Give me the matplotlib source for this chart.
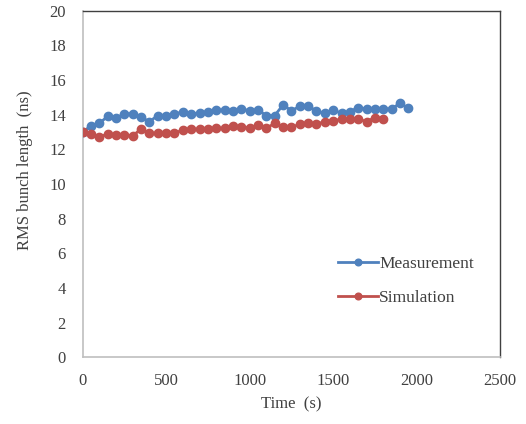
import numpy as np
import matplotlib
matplotlib.use("Agg")
import matplotlib.pyplot as plt

# time in seconds, bunch length in ns
t_meas = np.arange(0, 1951, 50)
rms_meas = [13.0, 13.35, 13.5, 13.9, 13.8, 14.05, 14.05, 13.85, 13.6, 13.95,
            13.95, 14.05, 14.15, 14.05, 14.08, 14.14, 14.27, 14.27, 14.21, 14.33,
            14.23, 14.27, 13.95, 13.95, 14.56, 14.23, 14.48, 14.5, 14.21, 14.08,
            14.27, 14.08, 14.18, 14.41, 14.33, 14.33, 14.33, 14.33, 14.66, 14.37]

t_sim = np.arange(0, 1801, 50)
rms_sim = [13.02, 12.87, 12.7, 12.89, 12.83, 12.83, 12.79, 13.16, 12.93, 12.93,
           12.93, 12.93, 13.12, 13.16, 13.16, 13.16, 13.22, 13.22, 13.35, 13.31,
           13.22, 13.41, 13.22, 13.5, 13.27, 13.27, 13.45, 13.5, 13.45, 13.6,
           13.64, 13.75, 13.75, 13.75, 13.6, 13.83, 13.75]

plt.rcParams['font.family'] = ['Liberation Serif', 'DejaVu Serif']

fig = plt.figure(figsize=(5.26, 4.24), dpi=100)
ax = fig.add_axes([0.157, 0.157, 0.794, 0.818])

ax.plot(t_meas, rms_meas, color='#4F81BD', lw=2, marker='o', ms=6,
        label='Measurement', zorder=3)
ax.plot(t_sim, rms_sim, color='#C0504D', lw=2, marker='o', ms=6,
        label='Simulation', zorder=4)

ax.set_xlim(0, 2500)
ax.set_ylim(0, 20)
ax.set_xticks(np.arange(0, 2501, 500))
ax.set_yticks(np.arange(0, 21, 2))
ax.tick_params(length=0, labelsize=12, labelcolor='#404040')
ax.tick_params(axis='y', pad=12)
ax.tick_params(axis='x', pad=11)

for s in ['left', 'bottom']:
    ax.spines[s].set_color('#BFBFBF')
    ax.spines[s].set_linewidth(1.2)
for s in ['top', 'right']:
    ax.spines[s].set_color('#404040')
    ax.spines[s].set_linewidth(1.0)

ax.set_xlabel('Time  (s)', fontsize=12, color='#404040')
ax.set_ylabel('RMS bunch length  (ns)', fontsize=12, color='#404040')
ax.xaxis.set_label_coords(0.5, -0.112)
ax.yaxis.set_label_coords(-0.118, 0.54)

leg = ax.legend(loc='center left', bbox_to_anchor=(0.575, 0.22), frameon=False,
                fontsize=12.5, handlelength=2.3, handletextpad=0.05,
                labelspacing=1.05, markerscale=0.8)
for txt in leg.get_texts():
    txt.set_color('#404040')

fig.savefig('out.png', dpi=100)
